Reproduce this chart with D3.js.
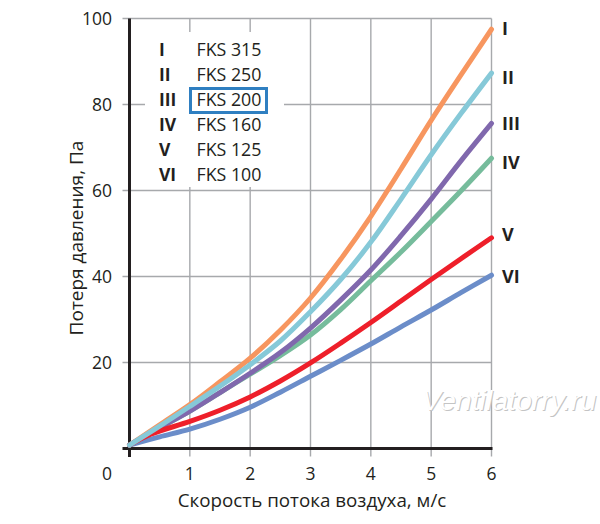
<!DOCTYPE html>
<html><head><meta charset="utf-8">
<script src="https://cdn.jsdelivr.net/npm/d3@7"></script>
<style>html,body{margin:0;padding:0;background:#fff;}svg{display:block;}</style>
</head><body>
<svg id="chart" width="600" height="524"></svg>
<script>
// ---- data ----
const xValues = [0, 0.5, 1, 1.5, 2, 2.5, 3, 3.5, 4, 4.5, 5, 5.5, 6];
const seriesI   = [0.8, 5.5, 10.2, 15.5, 21.0, 27.5, 35.0, 44.0, 54.0, 65.0, 76.3, 87.0, 97.5];
const seriesII  = [0.8, 5.2, 9.8, 14.5, 19.5, 25.0, 31.8, 39.3, 48.0, 58.0, 68.3, 78.0, 87.3];
const seriesIII = [0.8, 4.8, 8.7, 13.0, 17.5, 22.3, 28.0, 34.5, 41.5, 49.5, 58.0, 67.0, 75.6];
const seriesIV  = [0.8, 4.8, 8.7, 13.0, 17.3, 21.6, 26.4, 32.3, 39.0, 45.7, 52.8, 60.0, 67.5];
const xValuesV  = [0, 0.35, 1, 1.5, 2, 2.5, 3, 3.5, 4, 4.5, 5, 5.5, 6];
const seriesV   = [0.8, 3.3, 6.3, 8.9, 12.0, 15.7, 19.9, 24.5, 29.3, 34.3, 39.3, 44.2, 49.0];
const seriesVI  = [0.8, 2.7, 4.5, 6.8, 9.6, 13.1, 16.8, 20.5, 24.3, 28.3, 32.2, 36.3, 40.3];
const romanLabels = ["I", "II", "III", "IV", "V", "VI"];
const modelLabels = ["FKS 315", "FKS 250", "FKS 200", "FKS 160", "FKS 125", "FKS 100"];
const highlightedModel = "FKS 200";
const xTicks = [1, 2, 3, 4, 5, 6];
const yTicks = [20, 40, 60, 80, 100];
const xTitle = "Скорость потока воздуха, м/с";
const yTitle = "Потеря давления, Па";
const watermark = "Ventilatorry.ru";

// ---- styling ----
const colors = {I:"#f7965f", II:"#86c9d8", III:"#8068ad", IV:"#76bc9c", V:"#ee1f2a", VI:"#6b8dc9"};
const series = [
  {id:"I",   xs:xValues,  ys:seriesI,   labelY:35},
  {id:"II",  xs:xValues,  ys:seriesII,  labelY:84},
  {id:"III", xs:xValues,  ys:seriesIII, labelY:130},
  {id:"IV",  xs:xValues,  ys:seriesIV,  labelY:169},
  {id:"V",   xs:xValuesV, ys:seriesV,   labelY:241},
  {id:"VI",  xs:xValues,  ys:seriesVI,  labelY:283}
];
const drawOrder = ["I", "IV", "III", "VI", "V", "II"];
const FONT = "'Open Sans', 'Noto Sans', sans-serif";

const svg = d3.select("#chart");
svg.append("rect").attr("width",600).attr("height",524).attr("fill","#fff");

const x = d3.scaleLinear().domain([0, 6]).range([129.5, 491.5]);
const y = d3.scaleLinear().domain([0, 100]).range([448.5, 18.5]);

const grid = svg.append("g").attr("stroke","#a7a9ac").attr("stroke-width",1.4).attr("fill","none");
grid.selectAll("line.h").data(yTicks).join("line")
  .attr("x1", x(0) - 7).attr("x2", x(6))
  .attr("y1", d => y(d)).attr("y2", d => y(d));
grid.selectAll("line.v").data(xTicks).join("line")
  .attr("x1", d => x(d)).attr("x2", d => x(d))
  .attr("y1", y(100)).attr("y2", y(0) + 8);

// legend white background
svg.append("rect").attr("x",145).attr("y",32).attr("width",139).attr("height",155).attr("fill","#fff");

// axes
const axisG = svg.append("g").attr("stroke","#231f20").attr("stroke-width",3);
axisG.append("line").attr("x1", x(0)).attr("x2", x(0)).attr("y1", y(100)).attr("y2", y(0) + 8.5);
axisG.append("line").attr("x1", x(0) - 7).attr("x2", x(6) + 1).attr("y1", y(0)).attr("y2", y(0));

// tick labels
const tickFont = 17.5;
svg.append("g").selectAll("text").data(yTicks).join("text")
  .attr("x", 112).attr("y", d => y(d) + 6)
  .attr("text-anchor","end").attr("font-family",FONT).attr("font-size",tickFont).attr("fill","#231f20")
  .text(d => d);
svg.append("g").selectAll("text").data(xTicks).join("text")
  .attr("x", d => x(d)).attr("y", 479.5)
  .attr("text-anchor","middle").attr("font-family",FONT).attr("font-size",tickFont).attr("fill","#231f20")
  .text(d => d);
svg.append("text").attr("x",112).attr("y",479.5).attr("text-anchor","end")
  .attr("font-family",FONT).attr("font-size",tickFont).attr("fill","#231f20").text(0);

// axis titles
svg.append("text").attr("x", 312).attr("y", 507).attr("text-anchor","middle")
  .attr("font-family",FONT).attr("font-size",18.8).attr("fill","#231f20").text(xTitle);
svg.append("text").attr("transform","translate(83,238) rotate(-90)").attr("text-anchor","middle")
  .attr("font-family",FONT).attr("font-size",19).attr("fill","#231f20").text(yTitle);

// curves
const line = d3.line().x(d => x(d[0])).y(d => y(d[1])).curve(d3.curveCatmullRom.alpha(0.5));
const curves = svg.append("g").attr("fill","none").attr("stroke-width",5)
  .attr("stroke-linecap","round").attr("stroke-linejoin","round");
drawOrder.forEach(id => {
  const s = series.find(e => e.id === id);
  curves.append("path").attr("d", line(s.xs.map((v,i) => [v, s.ys[i]]))).attr("stroke", colors[id]);
});

// right-end labels
svg.append("g").selectAll("text").data(series).join("text")
  .attr("x", 502).attr("y", d => d.labelY)
  .attr("font-family",FONT).attr("font-weight","bold").attr("font-size",18).attr("fill","#231f20")
  .text(d => d.id);

// legend
const leg = svg.append("g");
romanLabels.forEach((r,i) => {
  const by = 56 + i*25;
  leg.append("text").attr("x",159).attr("y",by).attr("font-family",FONT).attr("font-weight","bold")
    .attr("font-size",17.5).attr("fill","#231f20").text(r);
  leg.append("text").attr("x",196.5).attr("y",by).attr("font-family",FONT)
    .attr("font-size",17.8).attr("fill","#231f20").text(modelLabels[i]);
  if (modelLabels[i] === highlightedModel) {
    leg.append("rect").attr("x",190.5).attr("y",by-17.5).attr("width",76).attr("height",24)
      .attr("fill","none").attr("stroke","#2f7fc1").attr("stroke-width",3);
  }
});

// watermark
const wm = svg.append("g").attr("font-family","'Liberation Sans', Arial, sans-serif")
  .attr("font-style","italic").attr("font-size",28.5);
wm.append("text").attr("x",423).attr("y",411).attr("fill","#c4c4c4").text(watermark);
wm.append("text").attr("x",422).attr("y",410).attr("fill","#fff").text(watermark);
</script>
</body></html>
